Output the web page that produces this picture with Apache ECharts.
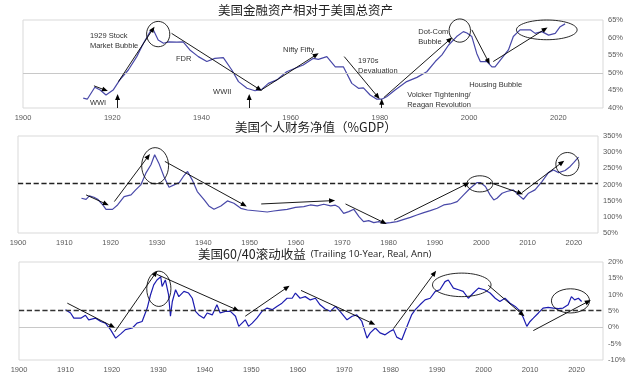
<!DOCTYPE html>
<html>
<head>
<meta charset="utf-8">
<script src="https://cdn.jsdelivr.net/npm/echarts@6/dist/echarts.min.js"></script>
<style>
  html, body { margin: 0; padding: 0; background: #fff; }
  .box { width: 640px; height: 376px; }
</style>
</head>
<body>
<div class="box"></div>
<script>
// 图1：金融资产 / 总资产 (%)
var p1Year = [1913.5, 1914.4, 1916.1, 1917.3, 1918.6, 1920.2, 1921.7, 1923.6, 1925.5, 1927, 1928.5, 1929.2, 1930.3, 1931.5, 1932.6, 1934.5, 1935.9, 1937.4, 1939.3, 1941.2, 1943, 1944.9, 1946.8, 1948.3, 1950.2, 1952, 1953.5, 1955, 1956.9, 1959.1, 1961, 1962.8, 1965.1, 1966.2, 1968.1, 1970, 1971.8, 1973.7, 1975.2, 1976.3, 1977.8, 1979.3, 1980.4, 1981.5, 1983.4, 1986, 1988.3, 1990.5, 1992.4, 1993.9, 1995.4, 1997.2, 1998.7, 1999.5, 2000.6, 2001.7, 2002.5, 2004, 2005.1, 2005.8, 2007.3, 2008.8, 2009.9, 2011.4, 2013.7, 2014.8, 2016.3, 2017.8, 2019.3, 2020.4, 2021.5];
var p1Val = [42.8, 42.5, 45.9, 45.1, 43.7, 45.1, 48, 50.8, 54.6, 58.4, 61.7, 62.2, 59.3, 58.4, 58.8, 58.7, 58.8, 56.5, 54.6, 53.2, 54.1, 54.3, 50.8, 47.5, 45.6, 44.9, 45.3, 47, 48, 50.3, 51.3, 52.2, 54.1, 53.8, 54.6, 51.7, 51.7, 47, 45.6, 45.7, 43.7, 42.5, 42.5, 43.2, 45.1, 47.5, 48.7, 50.3, 53.2, 55.1, 57.9, 60.3, 61.7, 61.3, 60.3, 55.5, 53.2, 53.2, 51.7, 51.7, 54.1, 56.5, 60.3, 62.2, 62.2, 61.2, 61.7, 60.7, 61.2, 63.1, 63.9];

// 图2：个人净值 (%GDP)
var p2Year = [1913.7, 1914.7, 1915.4, 1916.4, 1917.2, 1918.3, 1919, 1920.4, 1921.5, 1922.9, 1924.4, 1925.4, 1926.5, 1927.6, 1928.7, 1929.5, 1930.4, 1931.5, 1932.6, 1933.7, 1934.8, 1935.7, 1936.6, 1937.6, 1938.7, 1940.2, 1941.2, 1942.3, 1943.8, 1945.2, 1946.6, 1948.1, 1949.5, 1951.7, 1953.8, 1955.2, 1956.7, 1958.1, 1959.9, 1961.7, 1963.1, 1964.6, 1966, 1967.5, 1968.5, 1969.3, 1970.3, 1971.4, 1972.5, 1973.6, 1974.6, 1975.7, 1976.8, 1977.9, 1979, 1980.4, 1981.8, 1983.3, 1984.7, 1986.1, 1987.6, 1989, 1990.5, 1991.9, 1993.3, 1994.8, 1996.2, 1997.6, 1999.1, 1999.8, 2000.9, 2001.9, 2002.7, 2003.4, 2004.5, 2005.5, 2006.9, 2008, 2009.1, 2010.2, 2011.6, 2013.1, 2014.5, 2015.6, 2016.7, 2018.1, 2019.2, 2020, 2021];
var p2Val = [157.5, 154, 164.6, 160.6, 154.4, 136.7, 123, 123, 136.7, 162.7, 167.8, 183.4, 198.8, 235, 260.9, 292, 266, 224.8, 191.6, 198.8, 206, 224.8, 240.4, 214.4, 178.3, 152.3, 133.7, 123.3, 133.7, 149.2, 142, 126.4, 121.2, 118.1, 115, 118, 121, 123.3, 129.5, 131.6, 136.7, 134, 139, 134, 136, 129.5, 110.9, 116, 123.3, 100.6, 85, 88.2, 82, 85, 79.9, 82, 85, 92.3, 98.5, 105.6, 113, 119.3, 126.4, 136.7, 139.8, 147.2, 167.8, 188.5, 206, 206, 193.8, 167.8, 152.3, 157.5, 173, 178.3, 183.4, 167.8, 154.4, 173, 183.4, 209.1, 236.8, 245, 236.8, 243.2, 255.9, 268.3, 284.8];

// 图3：60/40 滚动10年实际年化收益 (%)
var p3Year = [1910, 1911.1, 1911.8, 1913.3, 1914.3, 1915, 1916.5, 1917.6, 1918.6, 1919.7, 1920.8, 1921.9, 1922.9, 1924.4, 1925.4, 1926.5, 1927.6, 1928.3, 1929, 1929.7, 1930.5, 1930.8, 1931.5, 1932.2, 1932.6, 1933, 1933.7, 1934.4, 1935.5, 1936.5, 1937.3, 1938, 1938.7, 1939.8, 1940.5, 1941.6, 1942.6, 1943.3, 1944.4, 1945.5, 1946.6, 1947.3, 1948, 1948.7, 1949.4, 1950.2, 1951.2, 1952.3, 1953.4, 1954.5, 1955.5, 1956.6, 1957.7, 1958.8, 1959.5, 1960.5, 1961.6, 1962.7, 1963.8, 1964.8, 1965.9, 1967, 1968.1, 1969.1, 1970.6, 1971.7, 1972.7, 1973.8, 1974.9, 1975.6, 1976.7, 1977.7, 1978.8, 1979.9, 1980.6, 1981.3, 1982.4, 1983.1, 1983.8, 1984.5, 1985.3, 1986.3, 1987.4, 1988.5, 1989.6, 1990.6, 1991.7, 1992.4, 1993.5, 1994.6, 1995.6, 1996.7, 1997.8, 1998.9, 2000.2, 2001.4, 2002.5, 2003.5, 2004.6, 2005.7, 2006.8, 2007.9, 2008.6, 2009.3, 2010, 2010.7, 2011.8, 2012.8, 2013.9, 2015, 2016.1, 2017.1, 2018.2, 2018.9, 2019.6, 2020.4, 2021.1];
var p3Val = [5.4, 4.4, 2.8, 2.8, 3.7, 2.3, 2.8, 1.8, 1.3, -0.7, -3.3, -2.0, -0.7, -0.2, 1.3, 1.8, 5.9, 9.9, 13, 14.5, 15.5, 12.5, 14.5, 9.9, 3.4, 7.9, 11.5, 9.4, 11, 10.5, 8.9, 4.9, 3.8, 2.8, 4.4, 3.8, 6.9, 4.4, 4.9, 4.9, 3.4, 0.3, 1.3, 2.3, 0.3, 1.3, 2.8, 4.9, 5.9, 5.4, 6.4, 7.4, 8.9, 8.9, 10.5, 8.9, 9.4, 8.4, 8.9, 6.9, 5.6, 4.9, 6.4, 4.9, 2.3, 3.4, 3.8, 1.8, -3.3, -1.7, -0.2, -1.7, -2.3, -1.2, -0.7, -3.0, -3.8, -1.2, 1.3, 3.8, 5.4, 6.9, 8.4, 8.9, 11, 11.5, 14, 14.5, 12, 11.5, 11, 8.9, 10.5, 12, 11.5, 10.5, 8.9, 7.9, 8.9, 7.4, 6.4, 4.9, 2.8, 0.3, 1.8, 2.8, 4.4, 5.9, 6.1, 5.9, 5.7, 5.9, 6.9, 9.4, 8.4, 8.9, 7.9];

// 坐标轴刻度
var p1Ticks = { min: 40, max: 65, step: 5 };
var p2Ticks = { min: 50, max: 350, step: 50 };
var p3Ticks = { min: -10, max: 20, step: 5 };
var p2Avg = 204;
var p3Avg = 5.3;

// 注释箭头 [x1, y1, x2, y2]
var p1Arrows = [
    [1915.9, 46.3, 1918.4, 45.1],
    [1921.4, 47.5, 1929.1, 62.4],
    [1933.3, 61.2, 1953, 45.3],
    [1953.5, 45.2, 1965.7, 55.1],
    [1972, 54.6, 1979.5, 43.2],
    [1980.9, 43, 1995.7, 59.5],
    [2000.6, 62.2, 2004.3, 53.2],
    [2005.4, 53.2, 2017, 62.4],
    [1921.2, 40, 1921.2, 43.1],
    [1950.7, 40, 1950.7, 43.1],
    [1980.4, 40, 1980.4, 41.8]
];
var p2Arrows = [
    [1914.7, 167.8, 1919, 139.8],
    [1920.8, 147.2, 1928.1, 287],
    [1931.7, 271.4, 1948.8, 136.7],
    [1952.5, 139.8, 1967.8, 150],
    [1970.7, 139.8, 1979, 82],
    [1981.2, 90, 1996.9, 201.9],
    [2001.9, 206, 2008.4, 173],
    [2008.8, 175, 2017.4, 268]
];
var p3Arrows = [
    [1910.4, 7.4, 1920.1, 0.3],
    [1920.6, -1.4, 1929.4, 16.6],
    [1929.7, 16.2, 1946.8, 5.4],
    [1948.7, 3.4, 1957.7, 12.2],
    [1960.7, 11.3, 1976.1, 1.2],
    [1980.6, -0.4, 1989.4, 16.6],
    [2001, 12.9, 2008.3, 4.0],
    [2010.7, -1.0, 2022.5, 7.9]
];

// 注释椭圆 [中心x, 中心y, 半径x, 半径y]
var p1Rings = [[1930.3, 61.0, 2.6, 3.6], [1997.9, 62.0, 2.4, 3.3], [2017.4, 62.2, 6.8, 2.8]];
var p2Rings = [[1929.6, 258, 2.9, 56], [1999.7, 202, 2.8, 25], [2018.6, 263, 2.5, 36]];
var p3Rings = [[1930.1, 11.8, 2.6, 5.4], [1995.3, 13, 6.3, 3.6], [2018.7, 8.1, 4.1, 3.7]];

// 图1文字注释 [x, y(上沿), 文本]
var p1Notes = [
    [1915.0, 61.9, '1929 Stock\nMarket Bubble'],
    [1934.3, 55.3, 'FDR'],
    [1915.0, 42.8, 'WWI'],
    [1942.6, 46.1, 'WWII'],
    [1958.3, 57.9, 'Nifty Fifty'],
    [1975.1, 54.8, '1970s\nDevaluation'],
    [1988.6, 63.1, 'Dot-Com\nBubble'],
    [2000.0, 48.0, 'Housing Bubble'],
    [1986.1, 45.1, 'Volcker Tightening/\nReagan Revolution']
];

(function () {
    var myChart = echarts.init(document.querySelector(".box"));

    var labelFont = 'Liberation Sans';
    var cjkFont = 'Noto Sans CJK SC';

    function zip(xs, ys) {
        return xs.map(function (x, i) { return [x, ys[i]]; });
    }

    // 箭头转为 markLine 数据，只有终点带三角
    function arrowLines(list) {
        return list.map(function (a) {
            return [
                { coord: [a[0], a[1]] },
                { coord: [a[2], a[3]], symbol: 'triangle', symbolSize: [5, 6] }
            ];
        });
    }

    function hLine(v, color, type) {
        return { yAxis: v, lineStyle: { color: color, type: type, width: type === 'dashed' ? 1.3 : 1 } };
    }

    function xAxisOf(idx, max, step) {
        return {
            type: 'value', gridIndex: idx, min: 1900, max: max, interval: step,
            axisLine: { show: false }, axisTick: { show: false }, splitLine: { show: false },
            axisLabel: {
                fontSize: 7.5, color: '#595959', fontFamily: labelFont, margin: 6,
                formatter: function (v) { return v % step === 0 ? String(v) : ''; }
            }
        };
    }

    function yAxisOf(idx, t) {
        return {
            type: 'value', gridIndex: idx, position: 'right', min: t.min, max: t.max, interval: t.step,
            axisLine: { show: false }, axisTick: { show: false }, splitLine: { show: false },
            axisLabel: { fontSize: 7.5, color: '#595959', fontFamily: labelFont, margin: 5, formatter: '{value}%' }
        };
    }

    function lineSeries(idx, data, color, refs, arrows) {
        return {
            type: 'line', xAxisIndex: idx, yAxisIndex: idx, data: data,
            showSymbol: false, silent: true,
            lineStyle: { color: color, width: 1.2 },
            markLine: {
                silent: true, animation: false,
                symbol: ['none', 'none'],
                label: { show: false },
                lineStyle: { color: '#000', width: 0.9, type: 'solid' },
                emphasis: { disabled: true },
                data: refs.concat(arrowLines(arrows))
            }
        };
    }

    var titleStyle = { fontSize: 12.5, fontWeight: 'normal', color: '#222', fontFamily: cjkFont };

    option = {
        animation: false,
        backgroundColor: '#fff',
        title: [
            { text: '美国金融资产相对于美国总资产', left: 218, top: 4, padding: 0, textStyle: titleStyle },
            { text: '美国个人财务净值（%GDP）', left: 235, top: 121, padding: 0, textStyle: titleStyle },
            {
                text: '{a|美国60/40滚动收益} {b|(Trailing 10-Year, Real, Ann)}', left: 198, top: 245, padding: 0,
                textStyle: {
                    fontWeight: 'normal',
                    rich: {
                        a: { fontSize: 12.5, fontWeight: 'normal', color: '#222', fontFamily: cjkFont },
                        b: { fontSize: 9.5, fontWeight: 'normal', color: '#222', fontFamily: 'Open Sans' }
                    }
                }
            }
        ],
        grid: [
            { left: 23, right: 37, top: 20, height: 88, show: true, borderColor: '#d9d9d9', borderWidth: 1 },
            { left: 18, right: 42, top: 136, height: 97, show: true, borderColor: '#d9d9d9', borderWidth: 1 },
            { left: 19, right: 37, top: 262, height: 98, show: true, borderColor: '#d9d9d9', borderWidth: 1 }
        ],
        xAxis: [xAxisOf(0, 2030, 20), xAxisOf(1, 2025.2, 10), xAxisOf(2, 2025.7, 10)],
        yAxis: [yAxisOf(0, p1Ticks), yAxisOf(1, p2Ticks), yAxisOf(2, p3Ticks)],
        series: [
            lineSeries(0, zip(p1Year, p1Val), '#4848a8', [hLine(50, '#c8c8c8', 'solid')], p1Arrows),
            lineSeries(1, zip(p2Year, p2Val), '#4848a8', [hLine(p2Avg, '#222', 'dashed')], p2Arrows),
            lineSeries(2, zip(p3Year, p3Val), '#1c1cb0', [hLine(0, '#c8c8c8', 'solid'), hLine(p3Avg, '#333', 'dashed')], p3Arrows)
        ]
    };

    myChart.setOption(option);

    // 椭圆与文字注释：按数据坐标换算成像素
    function ringGraphics(g, list) {
        return list.map(function (r) {
            var c = myChart.convertToPixel({ gridIndex: g }, [r[0], r[1]]);
            var e = myChart.convertToPixel({ gridIndex: g }, [r[0] + r[2], r[1] + r[3]]);
            return {
                type: 'ellipse', silent: true, z: 10,
                shape: { cx: c[0], cy: c[1], rx: Math.abs(e[0] - c[0]), ry: Math.abs(c[1] - e[1]) },
                style: { fill: 'none', stroke: '#111', lineWidth: 0.9 }
            };
        });
    }

    var noteGraphics = p1Notes.map(function (n) {
        var p = myChart.convertToPixel({ gridIndex: 0 }, [n[0], n[1]]);
        return {
            type: 'text', x: p[0], y: p[1], silent: true, z: 10,
            style: { text: n[2], fontSize: 7.5, lineHeight: 10, fill: '#333', fontFamily: labelFont }
        };
    });

    myChart.setOption({
        graphic: ringGraphics(0, p1Rings).concat(ringGraphics(1, p2Rings), ringGraphics(2, p3Rings), noteGraphics)
    });

    window.addEventListener("resize", function () {
        myChart.resize();
    });
})();
</script>
</body>
</html>
